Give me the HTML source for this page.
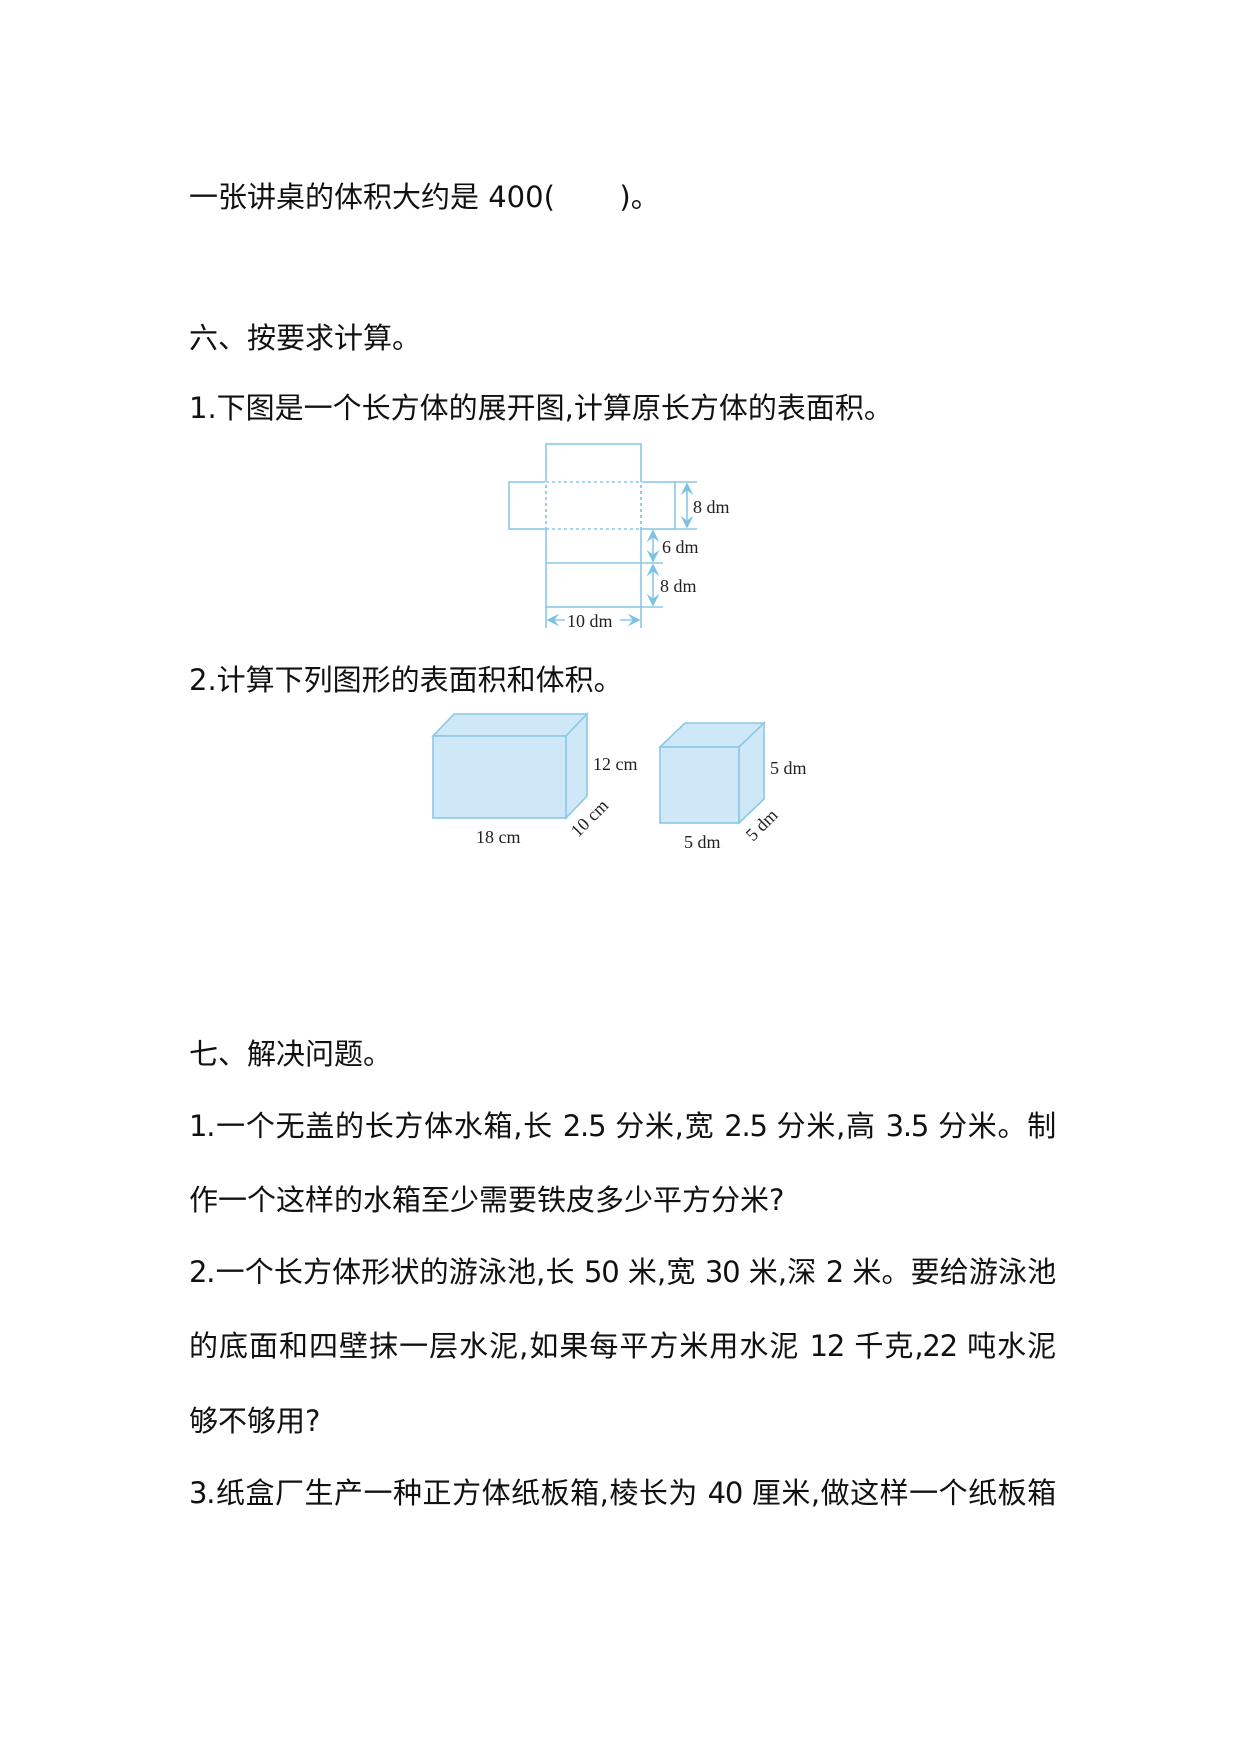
<!DOCTYPE html>
<html><head><meta charset="utf-8"><style>
body{margin:0;background:#fff;}
.p{position:absolute;left:0;top:0;width:1240px;height:1754px;overflow:hidden;}
.t{position:absolute;left:189px;font-family:"DejaVu Sans","Noto Sans CJK SC",sans-serif;font-size:29px;line-height:34px;color:#111;white-space:nowrap;}
.j{width:866px;text-align:justify;text-align-last:justify;white-space:normal;letter-spacing:-1.2px;}
svg text{font-family:"Liberation Serif",serif;font-size:18px;fill:#222;}
</style></head><body><div class="p">
<div class="t" style="top:180px">一张讲桌的体积大约是 400(&nbsp;&nbsp;&nbsp;&nbsp;&nbsp;&nbsp;&nbsp;)。</div>
<div class="t" style="top:321px">六、按要求计算。</div>
<div class="t" style="top:391px">1.下图是一个长方体的展开图,计算原长方体的表面积。</div>
<div class="t" style="top:663px">2.计算下列图形的表面积和体积。</div>
<div class="t" style="top:1037px">七、解决问题。</div>
<div class="t j" style="top:1109px">1.一个无盖的长方体水箱,长 2.5 分米,宽 2.5 分米,高 3.5 分米。制</div>
<div class="t" style="top:1183px">作一个这样的水箱至少需要铁皮多少平方分米?</div>
<div class="t j" style="top:1255px">2.一个长方体形状的游泳池,长 50 米,宽 30 米,深 2 米。要给游泳池</div>
<div class="t j" style="top:1329px">的底面和四壁抹一层水泥,如果每平方米用水泥 12 千克,22 吨水泥</div>
<div class="t" style="top:1404px">够不够用?</div>
<div class="t j" style="top:1476px">3.纸盒厂生产一种正方体纸板箱,棱长为 40 厘米,做这样一个纸板箱</div>
<svg width="1240" height="1754" style="position:absolute;left:0;top:0">
<defs><marker id="a" markerWidth="8" markerHeight="8" refX="7" refY="4" orient="auto-start-reverse"><path d="M0,0 L8,4 L0,8 L3,4 Z" fill="#7cc3e3"/></marker></defs>
<g stroke="#8cc8e6" stroke-width="1.6" fill="none">
<rect x="546" y="444" width="95" height="163"/>
<rect x="509" y="482" width="37" height="47"/>
<rect x="641" y="482" width="34" height="47"/>
<line x1="546" y1="482" x2="641" y2="482" stroke-dasharray="3,3"/>
<line x1="546" y1="529" x2="641" y2="529" stroke-dasharray="3,3"/>
<line x1="546" y1="482" x2="546" y2="529" stroke-dasharray="3,3" stroke="#fff" stroke-width="2"/>
<line x1="641" y1="482" x2="641" y2="529" stroke-dasharray="3,3" stroke="#fff" stroke-width="2"/>
<line x1="546" y1="563" x2="641" y2="563"/>
<line x1="546" y1="607" x2="546" y2="628"/><line x1="641" y1="607" x2="641" y2="628"/>
<line x1="675" y1="482" x2="697" y2="482"/><line x1="675" y1="529" x2="697" y2="529"/>
<line x1="641" y1="563" x2="663" y2="563"/><line x1="641" y1="607" x2="663" y2="607"/>
<line x1="687" y1="484" x2="687" y2="527" marker-start="url(#a)" marker-end="url(#a)"/>
<line x1="653" y1="531" x2="653" y2="561" marker-start="url(#a)" marker-end="url(#a)"/>
<line x1="653" y1="565" x2="653" y2="605" marker-start="url(#a)" marker-end="url(#a)"/>
<line x1="548" y1="620" x2="565" y2="620" marker-start="url(#a)"/>
<line x1="620" y1="620" x2="639" y2="620" marker-end="url(#a)"/>
</g>
<text x="693" y="513">8 dm</text>
<text x="662" y="553">6 dm</text>
<text x="660" y="592">8 dm</text>
<text x="567" y="627">10 dm</text>
<g stroke="#8cc8e6" stroke-width="1.6" fill="#cfe8f8">
<polygon points="433,736 454,714 587,714 566,736"/>
<polygon points="566,736 587,714 587,796 566,818"/>
<rect x="433" y="736" width="133" height="82"/>
<polygon points="660,747 685,723 764,723 739,747"/>
<polygon points="739,747 764,723 764,799 739,823"/>
<rect x="660" y="747" width="79" height="76"/>
</g>
<text x="593" y="770">12 cm</text>
<text x="476" y="843">18 cm</text>
<text transform="translate(578,838) rotate(-45)">10 cm</text>
<text x="770" y="774">5 dm</text>
<text x="684" y="848">5 dm</text>
<text transform="translate(753,842) rotate(-45)">5 dm</text>
</svg>
</div></body></html>
